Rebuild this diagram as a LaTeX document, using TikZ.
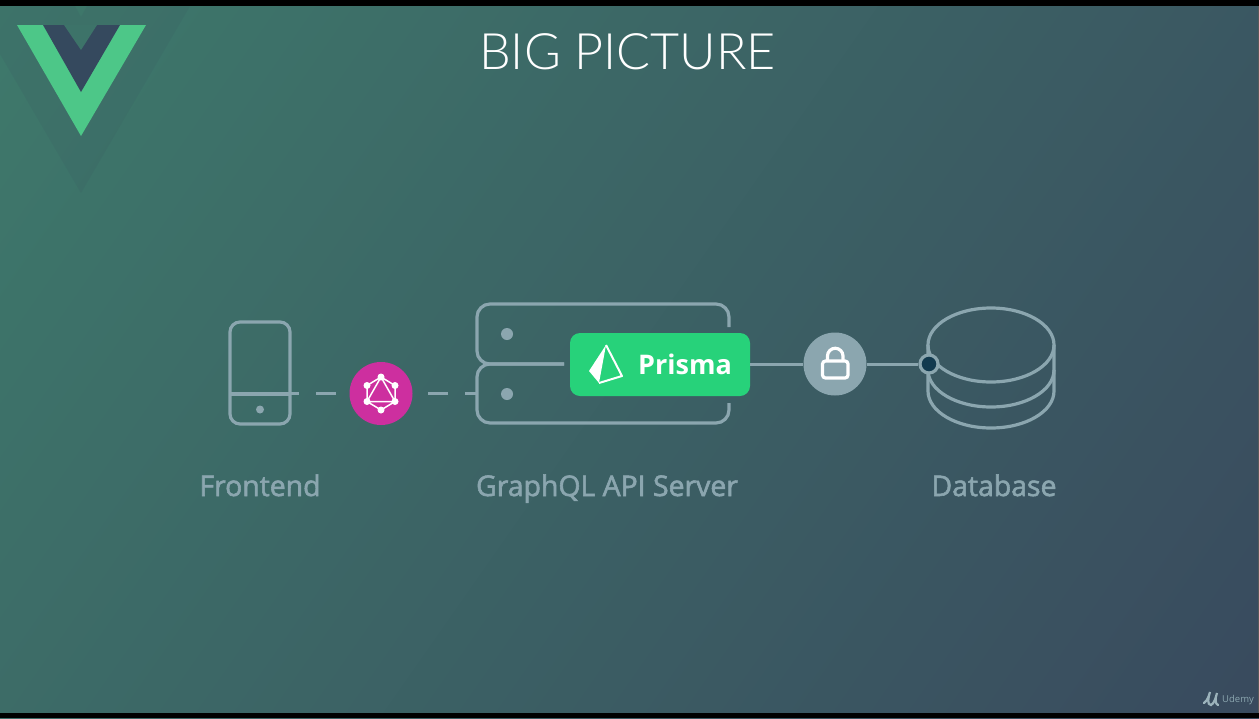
\documentclass[tikz,border=0pt]{standalone}
\usepackage{fontspec}
\setmainfont{Open Sans}
\newfontfamily\ttlfont{Lato Light}
\newfontfamily\semifont[FakeBold=2]{Open Sans}
\definecolor{bgA}{HTML}{3E796B}
\definecolor{bgB}{HTML}{394A5E}
\definecolor{linec}{HTML}{8BA6AF}
\definecolor{vgreen}{HTML}{4DC788}
\definecolor{vdark}{HTML}{35495E}
\definecolor{pgreen}{HTML}{27D27A}
\definecolor{gqlpink}{HTML}{CD2F9F}
\definecolor{dotdark}{HTML}{123A4F}
\tikzset{
  wire/.style={draw=linec,line width=3pt},
  outline/.style={draw=linec,line width=3.2pt},
  lbl/.style={text=linec,font=\semifont\fontsize{28.4}{30}\selectfont,anchor=base,inner sep=0pt},
  gline/.style={draw=white,line width=1.5pt},
  gdot/.style={circle,fill=white,inner sep=0pt,minimum size=7pt},
}
\begin{document}
\begin{tikzpicture}[x=1pt,y=-1pt]
\useasboundingbox (0,0) rectangle (1259,718);
\begin{scope}
\clip (0,0) rectangle (1259,718);
\shade[top color=bgA,bottom color=bgB,shading angle=55] (-92,-362) rectangle (1351,1081);
% faded Vue
\fill[vdark,opacity=.11] (-28,6) -- (75,6) -- (81,17) -- (87,6) -- (190,6) -- (81,193) -- cycle;
\fill[vgreen] (17,25) -- (146,25) -- (81,136) -- cycle;
\fill[vdark] (43,25) -- (120,25) -- (81,92) -- cycle;
\fill[bgA!88!vdark] (64,25) -- (97,25) -- (81,50) -- cycle;
\fill[black!65] (1257.5,6) rectangle (1259,713);
\fill[black] (0,0) rectangle (1259,6);
\fill[black] (0,713) rectangle (1259,718);
\end{scope}
\node[font=\ttlfont\fontsize{50.2}{56}\selectfont,text=white,anchor=base,inner sep=0pt] (title) at (627.5,69) {BIG PICTURE};
% phone
\node[outline,rectangle,rounded corners=10pt,minimum width=60pt,minimum height=102pt,inner sep=0pt] (phone) at (260,373) {};
\draw[outline] (230,394) -- (290,394);
\fill[linec] (260,409.5) circle[radius=4];
\coordinate (phoneport) at (290,393.5);
\coordinate (serverport) at (476,393.5);
% graphql
\node[circle,fill=gqlpink,minimum size=63pt,inner sep=0pt] (gql) at (381,393.5) {};
\draw[wire,dash pattern=on 9pt off 17pt on 20pt off 60pt] (phoneport) -- (gql);
\draw[wire,dash pattern=on 11pt off 17pt on 20pt off 60pt] (serverport) -- (gql);
\coordinate (g1) at (381,377);
\coordinate (g2) at (395,385.5);
\coordinate (g3) at (395,401.5);
\coordinate (g4) at (381,410);
\coordinate (g5) at (367,401.5);
\coordinate (g6) at (367,385.5);
\draw[gline] (g1)--(g2)--(g3)--(g4)--(g5)--(g6)--cycle (g1)--(g3)--(g5)--cycle;
\foreach \g in {g1,g2,g3,g4,g5,g6} \node[gdot] at (\g) {};
% server
\draw[outline,rounded corners=13pt] (729,327) -- (729,304) -- (477,304) -- (477,364) -- (564,364);
\draw[outline,rounded corners=13pt] (729,403) -- (729,423) -- (477,423) -- (477,364) -- (564,364);
\fill[linec] (507,334) circle[radius=6];
\fill[linec] (507,394) circle[radius=6];
% prisma
\node[fill=pgreen,rounded corners=10pt,minimum width=180pt,minimum height=63pt,inner sep=0pt] (prisma) at (660,364.5) {};
\node[text=white,font=\fontsize{27}{29}\selectfont\bfseries,anchor=base west,inner sep=0pt] (prismatxt) at (638,374) {Prisma};
\fill[white] (606,345) -- (589,371) -- (599,383) -- cycle;
\draw[white,line width=2pt,line join=round] (606,345) -- (622,376) -- (599,383);
% lock
\node[circle,fill=linec,minimum size=63pt,inner sep=0pt] (lock) at (835,364) {};
\draw[white,line width=3.2pt,rounded corners=3pt] (822.5,361) rectangle (848,378);
\draw[white,line width=3.2pt] (827.5,361) -- (827.5,356) arc[start angle=180,end angle=360,radius=7.75] -- (843,361);
% database
\draw[outline] (991,345) ellipse[x radius=63,y radius=37];
\draw[outline] (928,345) -- (928,391) arc[start angle=180,end angle=0,x radius=63,y radius=37] -- (1054,345);
\draw[outline] (928,370) arc[start angle=180,end angle=0,x radius=63,y radius=37];
\node[circle,draw=linec,line width=3.2pt,fill=dotdark,minimum size=18pt,inner sep=0pt] (dbport) at (929,364) {};
\draw[wire] (prisma.east |- lock) -- (lock);
\draw[wire] (lock) -- (dbport);
% labels
\node[lbl] (l1) at (260,496) {Frontend};
\node[lbl] (l2) at (607,496) {GraphQL API Server};
\node[lbl] (l3) at (994,496) {Database};
% udemy
\draw[linec!85!white,line width=2.2pt,line cap=round] (1204,703) .. controls (1208,700) and (1209,695) .. (1210,692) .. controls (1208,698) and (1207,705) .. (1211,705) .. controls (1214,704) and (1216,697) .. (1217,693) .. controls (1215,698) and (1215,704) .. (1218,705);
\node[text=linec,font=\fontsize{9.5}{10}\selectfont,anchor=base west,inner sep=0pt] (udemy) at (1222,702) {Udemy};
\end{tikzpicture}
\end{document}
